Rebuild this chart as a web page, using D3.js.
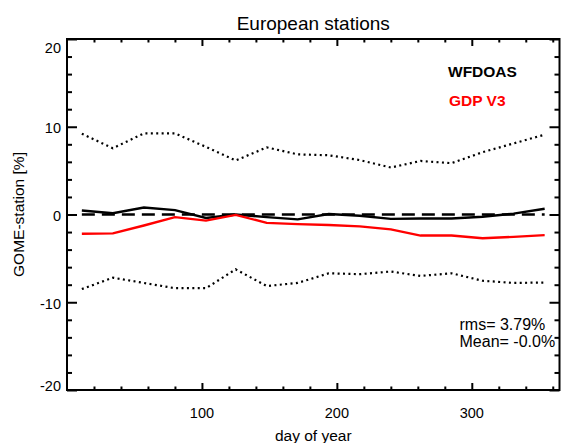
<!DOCTYPE html>
<html><head><meta charset="utf-8">
<script src="https://cdn.jsdelivr.net/npm/d3@7"></script>
<style>
html,body{margin:0;padding:0;background:#fff;}
text{font-family:"Liberation Sans",Arial,Helvetica,sans-serif;}
</style></head>
<body><div id="chart"></div>
<script>
// ---- data ----
const days   = [11, 34, 57, 80, 103, 125, 148, 171, 194, 217, 240, 262, 285, 308, 331, 354];
const wfdoas = [0.45, 0.15, 0.8, 0.5, -0.4, 0.0, -0.3, -0.55, 0.05, -0.15, -0.5, -0.45, -0.45, -0.25, 0.1, 0.65];
const gdpV3  = [-2.2, -2.15, -1.25, -0.3, -0.7, -0.05, -0.95, -1.1, -1.2, -1.35, -1.7, -2.4, -2.4, -2.7, -2.55, -2.35];
const upperBound = [9.2, 7.55, 9.25, 9.25, 7.7, 6.15, 7.65, 6.85, 6.75, 6.2, 5.35, 6.1, 5.85, 7.1, 8.1, 9.1];
const lowerBound = [-8.5, -7.2, -7.8, -8.4, -8.4, -6.25, -8.15, -7.8, -6.7, -6.8, -6.5, -7.0, -6.7, -7.55, -7.8, -7.75];
const zeroRef = days.map(() => 0);
const xMajorTicks = [100, 200, 300];
const xMinorTicks = [20, 40, 60, 80, 120, 140, 160, 180, 220, 240, 260, 280, 320, 340, 360];
const yMajorTicks = [-20, -10, 0, 10, 20];
const yMinorTicks = [-18, -16, -14, -12, -8, -6, -4, -2, 2, 4, 6, 8, 12, 14, 16, 18];
const titleText = "European stations";
const xLabel = "day of year";
const yLabel = "GOME-station [%]";
const legendLabels = ["WFDOAS", "GDP V3"];
const statsLines = ["rms= 3.79%", "Mean= -0.0%"];

// ---- layout ----
const W = 561, H = 443;
const L = 67, R = 559.5, T = 39, B = 390;
const svg = d3.select("#chart").append("svg").attr("width", W).attr("height", H);

const x = d3.scaleLinear().domain([0, 365]).range([L, R]);
const y = d3.scaleLinear().domain([-20, 20]).range([B, T]);

// axes (ticks inward)
function styleAxis(g){
  g.select(".domain").remove();
  g.selectAll(".tick line").attr("stroke","#000").attr("stroke-width",2);
  g.selectAll(".tick text").remove();
}
const ax = [
  [d3.axisBottom(x).tickValues(xMinorTicks).tickSize(-3.5), `translate(0,${B})`],
  [d3.axisBottom(x).tickValues(xMajorTicks).tickSize(-7), `translate(0,${B})`],
  [d3.axisTop(x).tickValues(xMinorTicks).tickSize(-3.5), `translate(0,${T})`],
  [d3.axisTop(x).tickValues(xMajorTicks).tickSize(-7), `translate(0,${T})`],
  [d3.axisLeft(y).tickValues(yMinorTicks).tickSize(-5), `translate(${L},0)`],
  [d3.axisLeft(y).tickValues(yMajorTicks).tickSize(-10), `translate(${L},0)`],
  [d3.axisRight(y).tickValues(yMinorTicks).tickSize(-5), `translate(${R},0)`],
  [d3.axisRight(y).tickValues(yMajorTicks).tickSize(-10), `translate(${R},0)`]
];
ax.forEach(([a,t]) => {
  svg.append("g").attr("transform", t).call(a.tickFormat("").tickSizeOuter(0)).call(styleAxis);
});

// frame
svg.append("rect").attr("x", L).attr("y", T).attr("width", R - L).attr("height", B - T)
  .attr("fill","none").attr("stroke","#000").attr("stroke-width",2);

// tick labels
const tickFs = 14.5;
svg.selectAll(".xl").data(xMajorTicks).enter().append("text")
  .attr("x", d => x(d)).attr("y", 413.3 + 0.358*tickFs)
  .attr("text-anchor","middle").attr("font-size", tickFs).text(d => d);
svg.selectAll(".yl").data(yMajorTicks).enter().append("text")
  .attr("x", L - 6)
  .attr("y", d => Math.max(47.5, Math.min(386, y(d) + 1.5)) + 0.358*tickFs)
  .attr("text-anchor","end").attr("font-size", tickFs).text(d => d);

// titles
svg.append("text").attr("x", (L+R)/2).attr("y", 22.7 + 0.358*19)
  .attr("text-anchor","middle").attr("font-size",19).text(titleText);
svg.append("text").attr("x", (L+R)/2).attr("y", 435 + 0.358*15.5)
  .attr("text-anchor","middle").attr("font-size",15.5).text(xLabel);
svg.append("text").attr("transform", `translate(${18.3 + 0.358*15.5},${(T+B)/2}) rotate(-90)`)
  .attr("text-anchor","middle").attr("font-size",15.5).text(yLabel);

// lines
const line = d3.line().x(d => x(d[0])).y(d => y(d[1]));
const zip = arr => days.map((d,i) => [d, arr[i]]);
const g = svg.append("g").attr("fill","none");
g.append("path").attr("d", line(zip(upperBound))).attr("stroke","#000").attr("stroke-width",2.2).attr("stroke-dasharray","2,3.4");
g.append("path").attr("d", line(zip(lowerBound))).attr("stroke","#000").attr("stroke-width",2.2).attr("stroke-dasharray","2,3.4");
g.append("path").attr("d", line(zip(zeroRef))).attr("stroke","#000").attr("stroke-width",2.4).attr("stroke-dasharray","13,7");
g.append("path").attr("d", line(zip(wfdoas))).attr("stroke","#000").attr("stroke-width",2.4);
g.append("path").attr("d", line(zip(gdpV3))).attr("stroke","#ff0000").attr("stroke-width",2.4);

// legend
const legFs = 15.5;
svg.append("text").attr("x", 448).attr("y", 71.7 + 0.358*legFs).attr("font-size",legFs)
  .attr("font-weight","bold").attr("fill","#000").text(legendLabels[0]);
svg.append("text").attr("x", 449).attr("y", 100 + 0.358*legFs).attr("font-size",legFs)
  .attr("font-weight","bold").attr("fill","#ff0000").text(legendLabels[1]);

// stats
const stFs = 16;
statsLines.forEach((s,i) => {
  svg.append("text").attr("x", 459.5).attr("y", 324.3 + i*17.4 + 0.358*stFs)
    .attr("font-size", stFs).text(s);
});
</script></body></html>
